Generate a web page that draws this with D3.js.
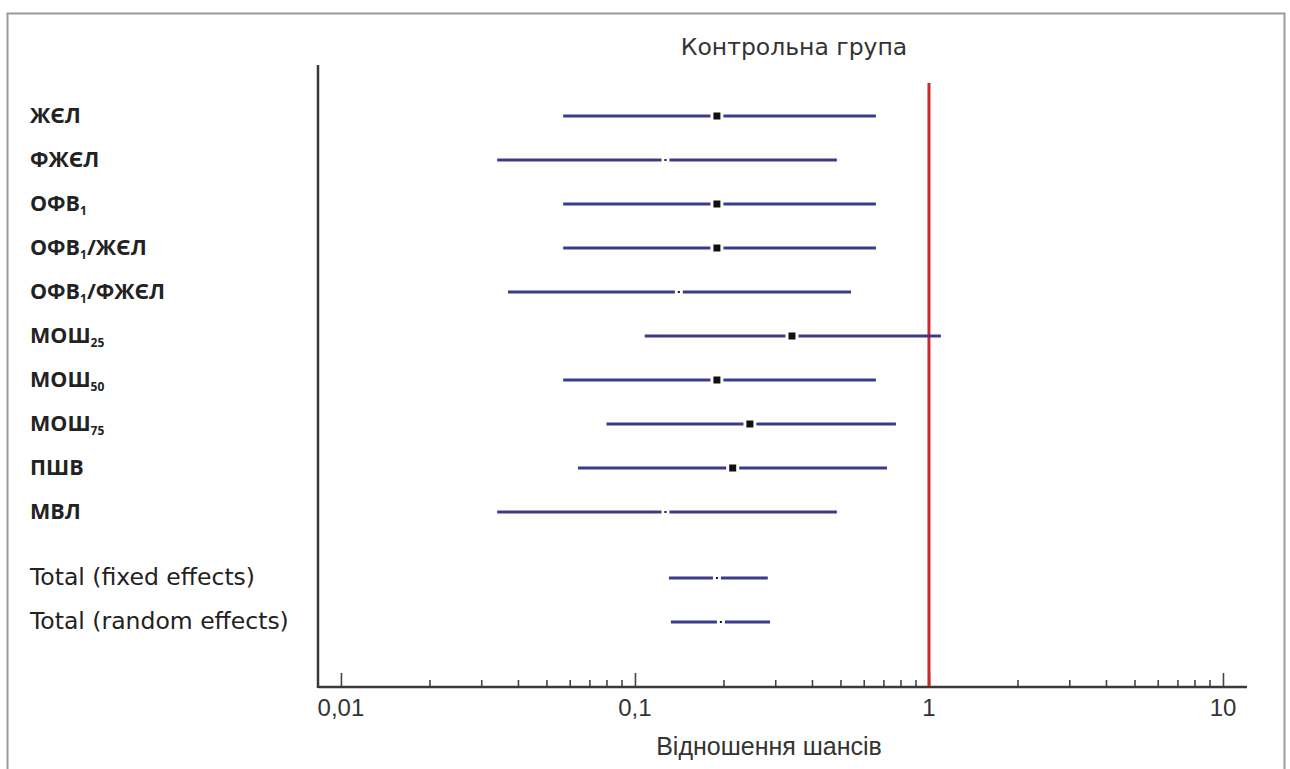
<!DOCTYPE html>
<html>
<head>
<meta charset="utf-8">
<script src="https://cdn.jsdelivr.net/npm/d3@7"></script>
<style>
  html, body { margin: 0; padding: 0; background: #fff; }
  svg { display: block; }
</style>
</head>
<body>
<svg id="chart" width="1290" height="769"></svg>
<script>
// Forest plot: odds ratios with 95% CI, control group
const categories = ["ЖЄЛ", "ФЖЄЛ", "ОФВ1", "ОФВ1/ЖЄЛ", "ОФВ1/ФЖЄЛ", "МОШ25", "МОШ50", "МОШ75", "ПШВ", "МВЛ",
                    "Total (fixed effects)", "Total (random effects)"];
// label parts: [main, subscript, rest]
const labelParts = [
  ["ЖЄЛ", "", ""], ["ФЖЄЛ", "", ""], ["ОФВ", "1", ""], ["ОФВ", "1", "/ЖЄЛ"], ["ОФВ", "1", "/ФЖЄЛ"],
  ["МОШ", "25", ""], ["МОШ", "50", ""], ["МОШ", "75", ""], ["ПШВ", "", ""], ["МВЛ", "", ""],
  ["Total (fixed effects)", "", ""], ["Total (random effects)", "", ""]
];
const rowPos   = [0, 1, 2, 3, 4, 5, 6, 7, 8, 9, 10.5, 11.5];
const oddsRatio = [0.190, 0.127, 0.190, 0.190, 0.141, 0.342, 0.190, 0.246, 0.215, 0.127, 0.190, 0.196];
const ciLow     = [0.057, 0.034, 0.057, 0.057, 0.037, 0.108, 0.057, 0.080, 0.064, 0.034, 0.1305, 0.1325];
const ciHigh    = [0.660, 0.486, 0.660, 0.660, 0.543, 1.098, 0.660, 0.772, 0.720, 0.486, 0.283, 0.288];
const weights   = [7, 2, 7, 7, 2, 7, 7, 7, 7, 2, 2, 2];
const majorTicks = [0.01, 0.1, 1, 10];
const tickLabels = ["0,01", "0,1", "1", "10"];

const svg = d3.select("#chart");

// outer frame
svg.append("rect")
  .attr("x", 7.5).attr("y", 13.5).attr("width", 1277).attr("height", 780)
  .attr("fill", "none").attr("stroke", "#9a9a9a").attr("stroke-width", 2);

const x = d3.scaleLog().domain([0.008355, 12.07]).range([318, 1247]);
const y = d3.scaleLinear().domain([0, 11.5]).range([116, 622]);
const axisY = 687;

// title
svg.append("text")
  .attr("x", 794).attr("y", 55)
  .attr("text-anchor", "middle")
  .attr("font-family", "'DejaVu Sans', sans-serif")
  .attr("font-size", 23.5)
  .attr("fill", "#333")
  .text("Контрольна група");

// x axis with minor log ticks
const minorTicks = [];
for (let p = -2; p <= 0; p++) {
  for (let m = 2; m <= 9; m++) minorTicks.push(m * Math.pow(10, p));
}
const axisG = svg.append("g").attr("transform", `translate(0,${axisY})`);
axisG.call(d3.axisTop(x).tickValues(minorTicks).tickSize(7).tickFormat(""))
  .call(g => g.select(".domain").remove());
axisG.append("g").call(d3.axisTop(x).tickValues(majorTicks).tickSize(14).tickFormat(""))
  .call(g => g.select(".domain").remove());
axisG.selectAll(".tick line").attr("stroke", "#444").attr("stroke-width", 1.6);
axisG.append("line")
  .attr("x1", 318).attr("x2", 1247).attr("y1", 0).attr("y2", 0)
  .attr("stroke", "#3a3a3a").attr("stroke-width", 2.5);

svg.append("g").selectAll("text").data(majorTicks).join("text")
  .attr("x", d => x(d)).attr("y", 716)
  .attr("text-anchor", "middle")
  .attr("font-family", "'Liberation Sans', Arial, sans-serif")
  .attr("font-size", 24)
  .attr("fill", "#333")
  .text((d, i) => tickLabels[i]);

svg.append("text")
  .attr("x", 769).attr("y", 755)
  .attr("text-anchor", "middle")
  .attr("font-family", "'Liberation Sans', Arial, sans-serif")
  .attr("font-size", 25)
  .attr("fill", "#333")
  .text("Відношення шансів");

// y axis line
svg.append("line")
  .attr("x1", 318).attr("x2", 318).attr("y1", 65).attr("y2", axisY + 1)
  .attr("stroke", "#3a3a3a").attr("stroke-width", 2.5);

// reference line at OR = 1
svg.append("line")
  .attr("x1", x(1)).attr("x2", x(1)).attr("y1", 83).attr("y2", axisY - 1)
  .attr("stroke", "#cc2a2a").attr("stroke-width", 3);

// row labels
const lab = svg.append("g").selectAll("text").data(labelParts).join("text")
  .attr("x", 30)
  .attr("y", (d, i) => y(rowPos[i]) + 7)
  .attr("fill", "#222")
  .attr("font-family", (d, i) => i < 10 ? "'Open Sans', sans-serif" : "'DejaVu Sans', sans-serif")
  .attr("font-weight", (d, i) => i < 10 ? 700 : 400)
  .attr("font-size", (d, i) => i < 10 ? 21.5 : 23.5);
lab.each(function(d) {
  const t = d3.select(this);
  t.append("tspan").text(d[0]);
  if (d[1]) t.append("tspan").attr("font-size", 12).attr("dy", 4).text(d[1]);
  if (d[2]) t.append("tspan").attr("dy", d[1] ? -4 : 0).text(d[2]);
});

// confidence intervals
const rows = svg.append("g").selectAll("g").data(categories).join("g");
rows.append("line")
  .attr("x1", (d, i) => x(ciLow[i]))
  .attr("x2", (d, i) => x(ciHigh[i]))
  .attr("y1", (d, i) => y(rowPos[i]))
  .attr("y2", (d, i) => y(rowPos[i]))
  .attr("stroke", "#3b3b8c").attr("stroke-width", 3);
// gap around the point estimate
rows.append("rect")
  .attr("x", (d, i) => x(oddsRatio[i]) - weights[i] / 2 - 3)
  .attr("y", (d, i) => y(rowPos[i]) - 3)
  .attr("width", (d, i) => weights[i] + 6)
  .attr("height", 6)
  .attr("fill", "#fff");
// point estimate square, sized by weight
rows.append("rect")
  .attr("x", (d, i) => x(oddsRatio[i]) - weights[i] / 2)
  .attr("y", (d, i) => y(rowPos[i]) - weights[i] / 2)
  .attr("width", (d, i) => weights[i])
  .attr("height", (d, i) => weights[i])
  .attr("fill", "#111");
</script>
</body>
</html>
